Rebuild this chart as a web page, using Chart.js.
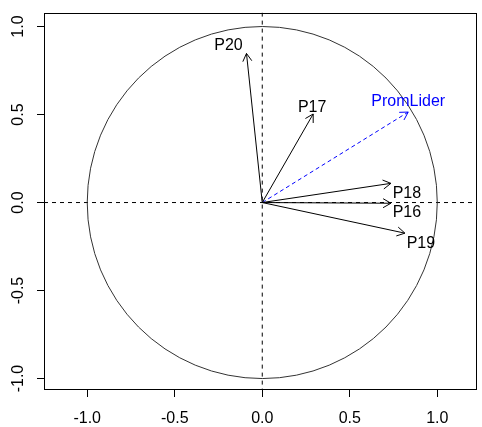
<!DOCTYPE html>
<html lang="en">
<head>
    <meta charset="UTF-8">
    <title>Variables factor map</title>
    <script src="https://cdn.jsdelivr.net/npm/chart.js"></script>
    <style>
        html, body { margin: 0; padding: 0; background: #fff; }
        #wrap { width: 482px; height: 427px; }
    </style>
</head>
<body>
    <div id="wrap"><canvas id="pcaChart"></canvas></div>

    <script>
        // active variables (arrows from the origin)
        const varNames = ['P16', 'P17', 'P18', 'P19', 'P20'];
        const dim1 = [0.735, 0.291, 0.735, 0.815, -0.090];
        const dim2 = [-0.004, 0.503, 0.109, -0.174, 0.847];

        // supplementary variable (blue dashed)
        const supName = 'PromLider';
        const supDim1 = 0.834;
        const supDim2 = 0.514;

        const xTicks = [-1.0, -0.5, 0.0, 0.5, 1.0];
        const yTicks = [-1.0, -0.5, 0.0, 0.5, 1.0];

        const FAMILY = '"Liberation Sans", Arial, sans-serif';
        const FONT = '16px ' + FAMILY;

        // label offsets in pixels from the arrow tip (text centre)
        const labelOffset = {
            P16: [16, 9], P17: [-1, -6], P18: [16, 10],
            P19: [16, 10], P20: [-18, -8], PromLider: [0, -10]
        };

        const datasets = varNames.map((name, i) => ({
            label: name,
            data: [{ x: 0, y: 0 }, { x: dim1[i], y: dim2[i] }],
            showLine: true,
            borderColor: '#000',
            borderWidth: 1,
            pointRadius: 0
        }));
        datasets.push({
            label: supName,
            data: [{ x: 0, y: 0 }, { x: supDim1, y: supDim2 }],
            showLine: true,
            borderColor: '#0000ff',
            borderWidth: 1,
            borderDash: [4, 3],
            pointRadius: 0
        });

        // circle, dashed axes, arrow heads, labels, box
        const pcaDecor = {
            id: 'pcaDecor',
            beforeDatasetsDraw(chart) {
                const { ctx, chartArea: a, scales: { x, y } } = chart;
                const x0 = x.getPixelForValue(0), y0 = y.getPixelForValue(0);
                ctx.save();
                ctx.beginPath();
                ctx.rect(a.left, a.top, a.right - a.left, a.bottom - a.top);
                ctx.clip();
                ctx.strokeStyle = '#000';
                ctx.lineWidth = 1;
                ctx.setLineDash([4, 4]);
                ctx.beginPath();
                ctx.moveTo(a.left, y0); ctx.lineTo(a.right, y0);
                ctx.moveTo(x0, a.top); ctx.lineTo(x0, a.bottom);
                ctx.stroke();
                ctx.setLineDash([]);
                ctx.strokeStyle = '#333';
                ctx.beginPath();
                ctx.ellipse(x0, y0, x.getPixelForValue(1) - x0, y0 - y.getPixelForValue(1), 0, 0, Math.PI * 2);
                ctx.stroke();
                ctx.restore();
            },
            afterDatasetsDraw(chart) {
                const { ctx } = chart;
                ctx.save();
                chart.data.datasets.forEach((ds, i) => {
                    const pts = chart.getDatasetMeta(i).data;
                    const p0 = pts[0], p1 = pts[1];
                    const ang = Math.atan2(p1.y - p0.y, p1.x - p0.x);
                    const len = 9, spread = Math.PI / 6;
                    ctx.strokeStyle = ds.borderColor;
                    ctx.lineWidth = 1;
                    ctx.setLineDash([]);
                    ctx.beginPath();
                    ctx.moveTo(p1.x - len * Math.cos(ang - spread), p1.y - len * Math.sin(ang - spread));
                    ctx.lineTo(p1.x, p1.y);
                    ctx.lineTo(p1.x - len * Math.cos(ang + spread), p1.y - len * Math.sin(ang + spread));
                    ctx.stroke();

                    const off = labelOffset[ds.label] || [0, 0];
                    ctx.font = FONT;
                    ctx.fillStyle = ds.borderColor;
                    ctx.textAlign = 'center';
                    ctx.textBaseline = 'middle';
                    ctx.fillText(ds.label, p1.x + off[0], p1.y + off[1]);
                });
                ctx.restore();
            },
            afterDraw(chart) {
                const { ctx, chartArea: a, scales: { y } } = chart;
                ctx.save();
                ctx.strokeStyle = '#000';
                ctx.lineWidth = 1;
                ctx.strokeRect(Math.round(a.left) + 0.5, Math.round(a.top) + 0.5,
                    Math.round(a.right - a.left) - 1, Math.round(a.bottom - a.top) - 1);
                // rotated y tick labels, R style
                ctx.font = FONT;
                ctx.fillStyle = '#000';
                ctx.textAlign = 'center';
                ctx.textBaseline = 'middle';
                yTicks.forEach(v => {
                    ctx.save();
                    ctx.translate(19, y.getPixelForValue(v));
                    ctx.rotate(-Math.PI / 2);
                    ctx.fillText(v.toFixed(1), 0, 0);
                    ctx.restore();
                });
                ctx.restore();
            }
        };

        new Chart(document.getElementById('pcaChart'), {
            type: 'scatter',
            data: { datasets: datasets },
            options: {
                responsive: true,
                maintainAspectRatio: false,
                animation: false,
                layout: { padding: { top: 10, right: 5, left: 0, bottom: 0 } },
                plugins: { legend: { display: false }, tooltip: { enabled: false } },
                scales: {
                    x: {
                        type: 'linear',
                        min: -1.247,
                        max: 1.227,
                        afterBuildTicks: s => { s.ticks = xTicks.map(v => ({ value: v })); },
                        afterFit: s => { s.height = 37; },
                        ticks: {
                            callback: v => Number(v).toFixed(1),
                            color: '#000',
                            font: { family: FAMILY, size: 16 },
                            padding: 12,
                            maxRotation: 0
                        },
                        grid: { drawOnChartArea: false, tickLength: 7, color: '#000' },
                        border: { display: false }
                    },
                    y: {
                        type: 'linear',
                        min: -1.065,
                        max: 1.079,
                        afterBuildTicks: s => { s.ticks = yTicks.map(v => ({ value: v })); },
                        afterFit: s => { s.width = 44; },
                        ticks: {
                            callback: v => Number(v).toFixed(1),
                            color: 'rgba(0,0,0,0)',
                            font: { family: FAMILY, size: 16 }
                        },
                        grid: { drawOnChartArea: false, tickLength: 7, color: '#000' },
                        border: { display: false }
                    }
                }
            },
            plugins: [pcaDecor]
        });
    </script>
</body>
</html>
